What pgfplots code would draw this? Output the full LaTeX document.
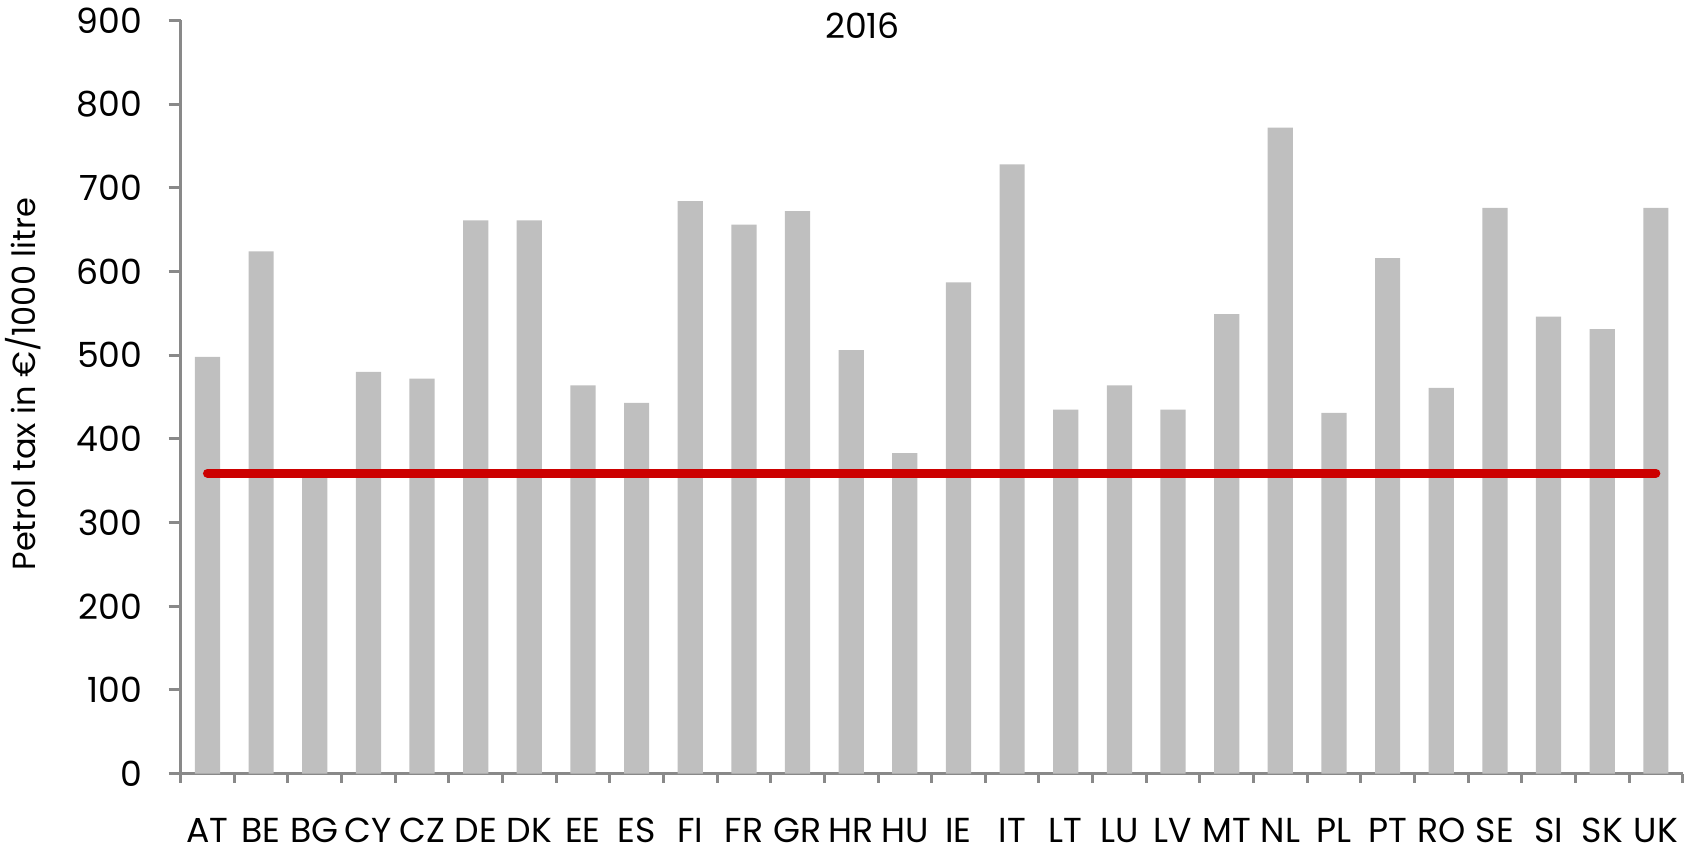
\documentclass[border=0pt]{standalone}
\usepackage{fontspec}
\setmainfont{Poppins}
\usepackage{pgfplots}
\pgfplotsset{compat=1.18}
\definecolor{bargray}{HTML}{BFBFBF}
\definecolor{axgray}{HTML}{898989}
\definecolor{minred}{HTML}{CC0000}
\begin{document}
\fontsize{10.4}{12}\selectfont
\begin{tikzpicture}
\useasboundingbox (-54.2pt,-23.2pt) rectangle (451.9pt,232.1pt);
\begin{axis}[
  at={(0,0)}, anchor=south west,
  scale only axis, width=450.6pt, height=226pt,
  xmin=-0.5, xmax=27.5, ymin=0, ymax=900,
  axis x line*=bottom, axis y line*=left,
  axis line style={axgray, line width=0.9pt},
  every outer x axis line/.append style={-}, every outer y axis line/.append style={-},
  xtick={0,...,27},
  xticklabels={AT,BE,BG,CY,CZ,DE,DK,EE,ES,FI,FR,GR,HR,HU,IE,IT,LT,LU,LV,MT,NL,PL,PT,RO,SE,SI,SK,UK},
  minor xtick={-0.5,0.5,...,27.5},
  ytick={0,100,...,900},
  tick align=outside,
  major x tick style={draw=none},
  minor x tick style={axgray, line width=0.9pt},
  minor tick length=2.7pt,
  major tick length=3.6pt,
  ytick style={axgray, line width=0.9pt},
  /pgf/number format/assume math mode=true,
  xticklabel style={anchor=base, yshift=-20pt+3pt, inner sep=0pt, text depth=0pt},
  yticklabel style={anchor=east, inner sep=0pt, xshift=-11.3pt+3.6pt},
  ticklabel style={font=\fontsize{10.4}{12}\selectfont},
  ylabel={Petrol tax in €/1000 litre},
  ylabel style={at={(axis description cs:-0.105,0.517)}, anchor=center, font=\fontsize{9.6}{11}\selectfont},
  clip=false,
]
\addplot[ybar, bar width=0.47, fill=bargray, draw=none] coordinates {
(0,498) (1,624) (2,363) (3,480) (4,472) (5,661) (6,661) (7,464) (8,443) (9,684)
(10,656) (11,672) (12,506) (13,383) (14,587) (15,728) (16,435) (17,464) (18,435) (19,549)
(20,772) (21,431) (22,616) (23,461) (24,676) (25,546) (26,531) (27,676)
};
\addplot[minred, line width=2.7pt, line cap=round, mark=none] coordinates {(0,359) (27,359)};
\node[anchor=base, inner sep=0pt, font=\fontsize{10.4}{12}\selectfont] at (rel axis cs:0.454,1) [yshift=-5.5pt] {2016};
\end{axis}
\end{tikzpicture}
\end{document}
